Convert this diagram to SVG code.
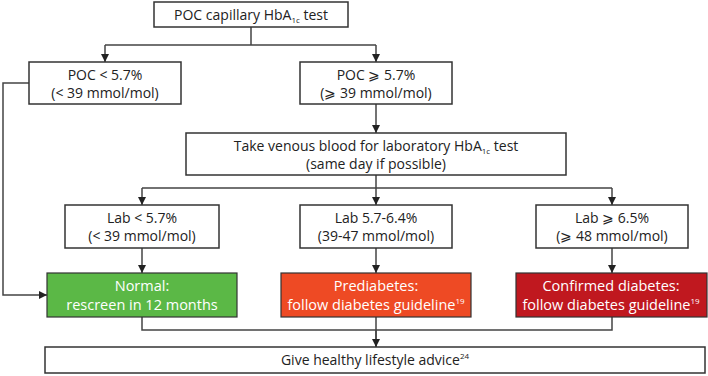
<svg xmlns="http://www.w3.org/2000/svg" width="708" height="376" viewBox="0 0 708 376">
<defs>
<marker id="arr" viewBox="0 0 10 10" refX="10" refY="5" markerWidth="8" markerHeight="8" markerUnits="userSpaceOnUse" orient="auto">
<path d="M0,0 L10,5 L0,10 z" fill="#222"/>
</marker>
<style>
.box{fill:#fff;stroke:#333;stroke-width:1.5}
.t{font-family:"Open Sans","Liberation Sans",sans-serif;font-size:14px;fill:#222;text-anchor:middle}
.w{font-family:"Open Sans","Liberation Sans",sans-serif;font-size:14.5px;fill:#fff;text-anchor:middle}
.c{fill:none;stroke:#444;stroke-width:1.5}
.sub{font-size:8px}
</style>
</defs>
<rect width="708" height="376" fill="#fff"/>
<g id="connectors">
<path class="c" d="M251,27 V45 M105,45 H376"/>
<path class="c" d="M105,45 V62" marker-end="url(#arr)"/>
<path class="c" d="M376,45 V62" marker-end="url(#arr)"/>
<path class="c" d="M376,104 V133" marker-end="url(#arr)"/>
<path class="c" d="M29,83 H3 V295 H47" marker-end="url(#arr)"/>
<path class="c" d="M376,175 V188 M142,188 H612"/>
<path class="c" d="M142,188 V205" marker-end="url(#arr)"/>
<path class="c" d="M376,188 V205" marker-end="url(#arr)"/>
<path class="c" d="M612,188 V205" marker-end="url(#arr)"/>
<path class="c" d="M142,248 V273" marker-end="url(#arr)"/>
<path class="c" d="M376,248 V273" marker-end="url(#arr)"/>
<path class="c" d="M612,248 V273" marker-end="url(#arr)"/>
<path class="c" d="M142,317 V330 H612 V317 M376,317 V347"/>
<path class="c" d="M376,330 V347" marker-end="url(#arr)"/>
</g>
<g id="poc-test">
<rect class="box" x="154" y="2" width="194" height="25"/>
<text class="t" x="251" y="20">POC capillary HbA<tspan class="sub" dy="3">1c</tspan><tspan dy="-3"> test</tspan></text>
</g>
<g id="poc-low">
<rect class="box" x="29" y="62" width="152" height="42"/>
<text class="t" x="105" y="80">POC &lt; 5.7%</text>
<text class="t" x="105" y="98">(&lt; 39 mmol/mol)</text>
</g>
<g id="poc-high">
<rect class="box" x="300" y="62" width="152" height="42"/>
<text class="t" x="376" y="80">POC ⩾ 5.7%</text>
<text class="t" x="376" y="98">(⩾ 39 mmol/mol)</text>
</g>
<g id="venous">
<rect class="box" x="186" y="133" width="380" height="42"/>
<text class="t" x="376" y="151">Take venous blood for laboratory HbA<tspan class="sub" dy="3">1c</tspan><tspan dy="-3"> test</tspan></text>
<text class="t" x="376" y="169">(same day if possible)</text>
</g>
<g id="lab-low">
<rect class="box" x="65" y="205" width="154" height="43"/>
<text class="t" x="142" y="223">Lab &lt; 5.7%</text>
<text class="t" x="142" y="241">(&lt; 39 mmol/mol)</text>
</g>
<g id="lab-mid">
<rect class="box" x="300" y="205" width="152" height="43"/>
<text class="t" x="376" y="223">Lab 5.7-6.4%</text>
<text class="t" x="376" y="241">(39-47 mmol/mol)</text>
</g>
<g id="lab-high">
<rect class="box" x="536" y="205" width="152" height="43"/>
<text class="t" x="612" y="223">Lab ⩾ 6.5%</text>
<text class="t" x="612" y="241">(⩾ 48 mmol/mol)</text>
</g>
<g id="normal">
<rect x="47" y="273" width="190" height="44" fill="#5bb846" stroke="#333" stroke-width="1.2"/>
<text class="w" x="142" y="291">Normal:</text>
<text class="w" x="142" y="310">rescreen in 12 months</text>
</g>
<g id="prediabetes">
<rect x="281" y="273" width="190" height="44" fill="#ee4a24" stroke="#333" stroke-width="1.2"/>
<text class="w" x="376" y="291">Prediabetes:</text>
<text class="w" x="376" y="310">follow diabetes guideline<tspan class="sub" dy="-6">19</tspan></text>
</g>
<g id="diabetes">
<rect x="516" y="273" width="191" height="44" fill="#c0181f" stroke="#333" stroke-width="1.2"/>
<text class="w" x="611" y="291">Confirmed diabetes:</text>
<text class="w" x="611" y="310">follow diabetes guideline<tspan class="sub" dy="-6">19</tspan></text>
</g>
<g id="lifestyle">
<rect class="box" x="45" y="347" width="660" height="26"/>
<text class="t" x="375" y="365">Give healthy lifestyle advice<tspan class="sub" dy="-6">24</tspan></text>
</g>
</svg>
